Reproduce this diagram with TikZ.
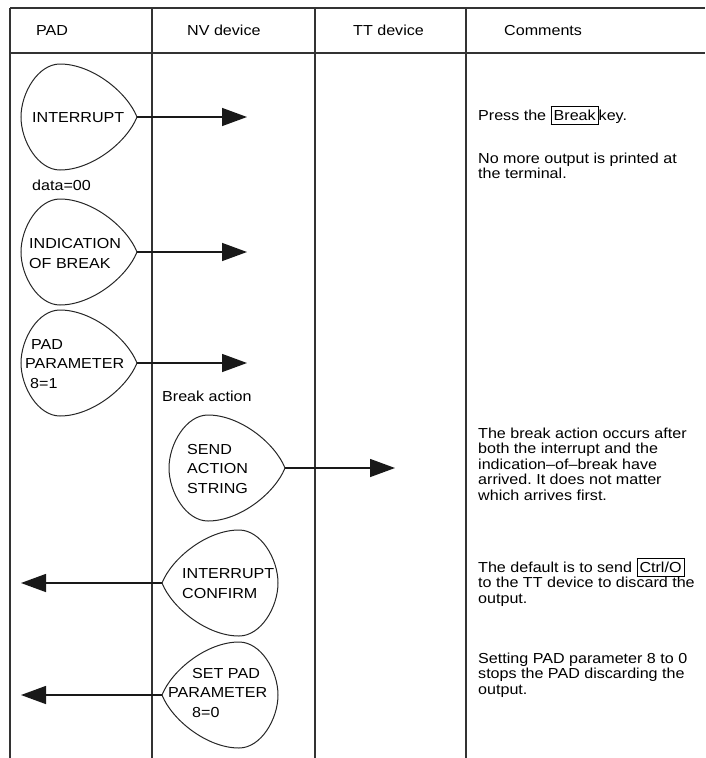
\documentclass[tikz,border=0pt]{standalone}
\usepackage{fontspec}
\setmainfont{Liberation Sans}[FakeStretch=1.11]
\usetikzlibrary{arrows.meta}
\frenchspacing
% boxed key name, smashed so it does not spread the lines apart
\newcommand\keycap[1]{\smash{{\setlength\fboxsep{2pt}\setlength\fboxrule{1pt}\fbox{\rule[-1.5pt]{0pt}{12.5pt}#1}}}}

\begin{document}
\begin{tikzpicture}[x=1pt,y=-1pt,
  rule/.style={line width=1.1pt,draw=black!80},
  outline/.style={line width=1pt,draw=black!85},
  sig/.style={line width=1.4pt,black!90,-{Triangle[length=25pt,width=18pt]}},
  txt/.style={inner sep=0pt,anchor=base west,align=left,font=\fontsize{14.5}{15.6}\selectfont},
  lbl/.style={txt,font=\fontsize{14.5}{19.5}\selectfont},
  pics/dropright/.style={code={
    \draw[outline] (0,0) .. controls (-10,-25) and (-45,-53) .. (-77,-53)
      .. controls (-99,-53) and (-116,-24) .. (-116,0)
      .. controls (-116,24) and (-99,53) .. (-77,53)
      .. controls (-45,53) and (-10,25) .. (0,0) -- cycle;}}
]
\useasboundingbox (0,0) rectangle (705,758);

% table frame
\draw[rule] (10,8) -- (705,8);
\draw[rule] (10,53) -- (705,53);
\draw[rule] (10,8) -- (10,758);
\draw[rule] (152,8) -- (152,758);
\draw[rule] (315,8) -- (315,758);
\draw[rule] (466,8) -- (466,758);

% column headings
\node[txt] (hpad) at (36,35) {PAD};
\node[txt] (hnv) at (187,35) {NV device};
\node[txt] (htt) at (353,35) {TT device};
\node[txt] (hcom) at (504,35) {Comments};

% signal tips and arrow ends
\coordinate (t1) at (137,117);  \coordinate (e1) at (247,117);
\coordinate (t2) at (137,252);  \coordinate (e2) at (247,252);
\coordinate (t3) at (137,363);  \coordinate (e3) at (247,363);
\coordinate (t4) at (285,468);  \coordinate (e4) at (395,468);
\coordinate (t5) at (162,583);  \coordinate (e5) at (21,583);
\coordinate (t6) at (162,695);  \coordinate (e6) at (21,695);

% signal symbols
\pic at (t1) {dropright};
\pic at (t2) {dropright};
\pic at (t3) {dropright};
\pic at (t4) {dropright};
\pic[xscale=-1] at (t5) {dropright};
\pic[xscale=-1] at (t6) {dropright};

% signal names (multi-line nodes sit on the baseline of their last line)
\node[lbl] (s1) at (32,122) {INTERRUPT};
\node[lbl] (s2) at (29,268) {INDICATION\\OF BREAK};
\node[lbl] (s3) at (25,388) {\hspace*{6pt}PAD\\PARAMETER\\\hspace*{5pt}8=1};
\node[lbl] (s4) at (187,493) {SEND\\ACTION\\STRING};
\node[lbl] (s5) at (182,598) {INTERRUPT\\CONFIRM};
\node[lbl] (s6) at (168,717) {\hspace*{24pt}SET PAD\\PARAMETER\\\hspace*{24pt}8=0};

% other labels
\node[txt] (data) at (32,190) {data=00};
\node[txt] (bact) at (162,401) {Break action};

% arrows
\draw[sig] (t1) -- (e1);
\draw[sig] (t2) -- (e2);
\draw[sig] (t3) -- (e3);
\draw[sig] (t4) -- (e4);
\draw[sig] (t5) -- (e5);
\draw[sig] (t6) -- (e6);

% comments
\node[txt] (c1) at (478,120) {Press the \keycap{Break}key.};
\node[txt] (c2) at (478,178.6) {No more output is printed at\\the terminal.};
\node[txt] (c3) at (478,500.4) {The break action occurs after\\both the interrupt and the\\indication–of–break have\\arrived. It does not matter\\which arrives first.};
\node[txt] (c4) at (478,603.2) {The default is to send \keycap{Ctrl/O}\\to the TT device to discard the\\output.};
\node[txt] (c5) at (478,694.2) {Setting PAD parameter 8 to 0\\stops the PAD discarding the\\output.};
\end{tikzpicture}
\end{document}
